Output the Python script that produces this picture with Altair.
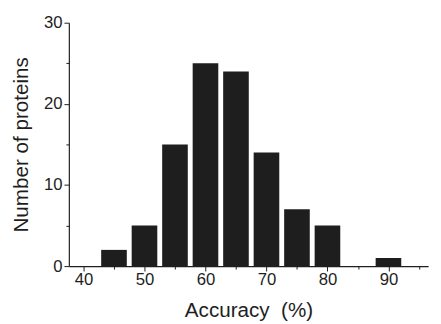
import altair as alt
import pandas as pd

bin_centers = [45, 50, 55, 60, 65, 70, 75, 80, 90]
counts = [2, 5, 15, 25, 24, 14, 7, 5, 1]
x_ticks = [40, 45, 50, 55, 60, 65, 70, 75, 80, 85, 90, 95]
y_ticks = [0, 5, 10, 15, 20, 25, 30]

df = pd.DataFrame({"center": bin_centers, "count": counts})

FONT = "Liberation Sans"
COLOR = "#1e1e1e"

chart = alt.Chart(df).transform_calculate(
    x0="datum.center - 2.1", x1="datum.center + 2.1"
).mark_bar(color=COLOR).encode(
    x=alt.X("x0:Q", scale=alt.Scale(domain=[37.6, 96.5], nice=False, zero=False),
            axis=alt.Axis(values=x_ticks, title="Accuracy\u00a0\u00a0(%)",
                          labelExpr="datum.value % 10 == 0 ? datum.label : ''",
                          tickSize=alt.condition("datum.value % 10 != 0", alt.value(3), alt.value(5)),
                          labelPadding=1, titlePadding=12, grid=False)),
    x2="x1:Q",
    y=alt.Y("count:Q", scale=alt.Scale(domain=[0, 30], nice=False),
            axis=alt.Axis(values=y_ticks, title="Number of proteins",
                          labelExpr="datum.value % 10 == 0 ? datum.label : ''",
                          tickSize=alt.condition("datum.value % 10 != 0", alt.value(3), alt.value(5)),
                          labelPadding=2, titlePadding=12, grid=False)),
    y2=alt.datum(0),
).properties(
    width=366, height=248,
    background="white",
    autosize=alt.AutoSizeParams(type="none"),
    padding={"left": 62, "top": 12, "right": 5, "bottom": 56},
).configure_axis(
    domainColor=COLOR, tickColor=COLOR, labelColor=COLOR, titleColor=COLOR,
    labelFont=FONT, titleFont=FONT, labelFontSize=17, titleFontSize=21,
    titleFontWeight="normal", domainWidth=1.2, tickWidth=1,
).configure_view(stroke=None)

chart.save("out.html", embed_options={"renderer": "svg", "actions": False})
